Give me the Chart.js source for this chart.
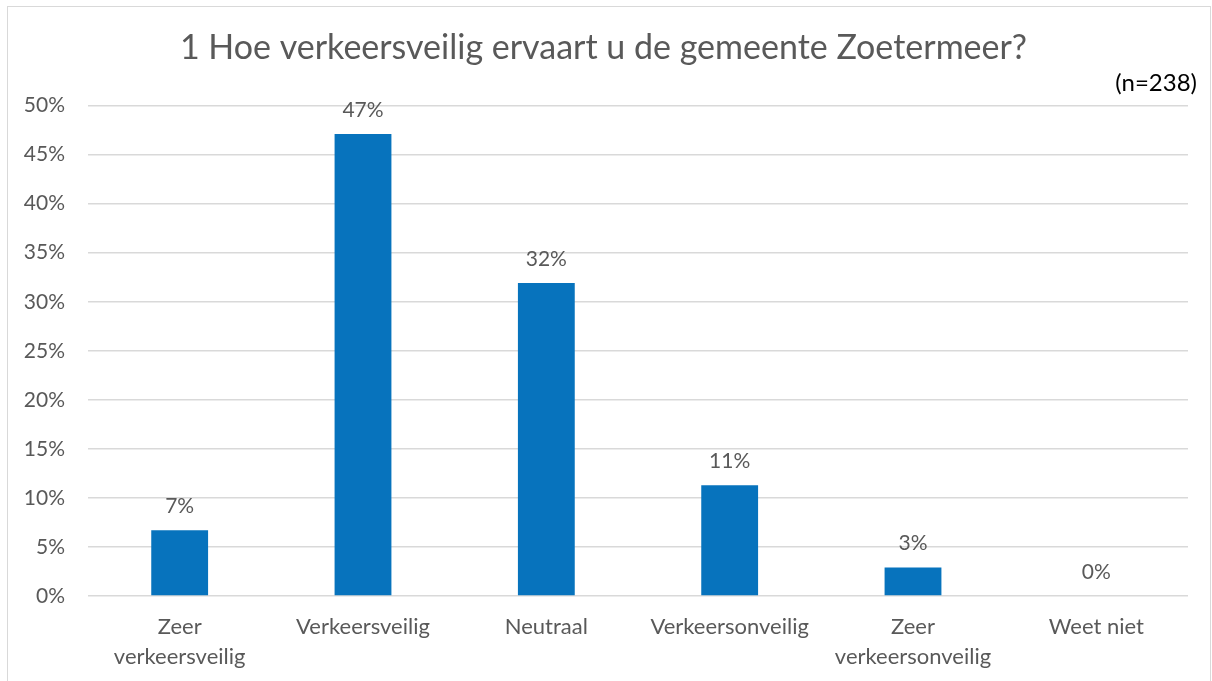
<!DOCTYPE html>
<html lang="nl">
<head>
    <meta charset="UTF-8">
    <title>Verkeersveiligheid Zoetermeer</title>
    <script src="https://cdn.jsdelivr.net/npm/chart.js"></script>
    <style>
        body {
            margin: 0;
            background-color: #ffffff;
            font-family: Lato, sans-serif;
        }

        .frame {
            position: absolute;
            left: 7px;
            top: 6px;
            width: 1202px;
            height: 700px;
            border: 1px solid #d9d9d9;
        }

        .chart-container {
            position: absolute;
            left: 0;
            top: 0;
            width: 1212px;
            height: 681px;
        }
    </style>
</head>
<body>
    <div class="frame"></div>
    <div class="chart-container">
        <canvas id="safetyChart"></canvas>
    </div>

    <script>
        // Data
        const categories = [
            ['Zeer', 'verkeersveilig'],
            'Verkeersveilig',
            'Neutraal',
            'Verkeersonveilig',
            ['Zeer', 'verkeersonveilig'],
            'Weet niet'
        ];
        const percentages = [6.7, 47.1, 31.9, 11.3, 2.9, 0];
        const yTicks = [0, 5, 10, 15, 20, 25, 30, 35, 40, 45, 50];

        const textColor = '#595959';
        const gridColor = '#d9d9d9';
        const barColor = '#0773bd';

        // Draws the percentage above every bar
        const barLabels = {
            id: 'barLabels',
            afterDatasetsDraw(chart) {
                const ctx = chart.ctx;
                const meta = chart.getDatasetMeta(0);
                ctx.save();
                ctx.font = '21px Lato, sans-serif';
                ctx.fillStyle = textColor;
                ctx.textAlign = 'center';
                ctx.textBaseline = 'middle';
                meta.data.forEach((bar, i) => {
                    ctx.fillText(Math.round(percentages[i]) + '%', bar.x, bar.y - 24);
                });
                ctx.restore();
            }
        };

        const chart = new Chart(document.getElementById('safetyChart'), {
            type: 'bar',
            data: {
                labels: categories,
                datasets: [{
                    data: percentages,
                    backgroundColor: barColor,
                    barPercentage: 0.31,
                    categoryPercentage: 1
                }]
            },
            options: {
                responsive: true,
                maintainAspectRatio: false,
                animation: false,
                layout: {
                    padding: { top: 10, left: 10, right: 15, bottom: 0 }
                },
                plugins: {
                    legend: { display: false },
                    tooltip: { enabled: false },
                    title: {
                        display: true,
                        text: '1 Hoe verkeersveilig ervaart u de gemeente Zoetermeer?',
                        color: textColor,
                        font: { family: 'Lato', size: 34, weight: 'normal', lineHeight: 1.2 },
                        padding: { top: 18, bottom: 0 }
                    },
                    subtitle: {
                        display: true,
                        text: '(n=238)',
                        align: 'end',
                        color: '#000000',
                        font: { family: 'Lato', size: 24, lineHeight: 1.2 },
                        padding: { top: 0, bottom: 8 }
                    }
                },
                scales: {
                    x: {
                        grid: { display: false, drawTicks: false },
                        border: { display: false },
                        ticks: {
                            color: textColor,
                            font: { family: 'Lato', size: 22, lineHeight: 1.36 },
                            padding: 16,
                            maxRotation: 0,
                            autoSkip: false
                        },
                        afterFit(scale) {
                            scale.height = 85;
                        }
                    },
                    y: {
                        min: 0,
                        max: 50,
                        grid: { color: gridColor, lineWidth: 1.5, drawTicks: false },
                        border: { display: false },
                        afterBuildTicks(scale) {
                            scale.ticks = yTicks.map(v => ({ value: v }));
                        },
                        ticks: {
                            color: textColor,
                            font: { family: 'Lato', size: 21 },
                            padding: 23,
                            callback: v => v + '%'
                        },
                        afterFit(scale) {
                            scale.width = 78;
                        }
                    },
                    // empty strip on the right so the plot ends a bit before (n=238)
                    yRight: {
                        position: 'right',
                        display: true,
                        grid: { display: false, drawTicks: false },
                        border: { display: false },
                        ticks: { display: false },
                        afterFit(scale) {
                            scale.width = 9;
                        }
                    }
                }
            },
            plugins: [barLabels]
        });
    </script>
</body>
</html>
